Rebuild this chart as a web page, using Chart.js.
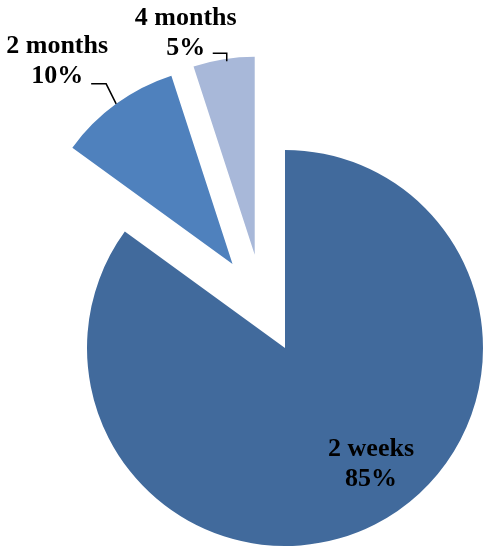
<!DOCTYPE html>
<html>
<head>
<meta charset="utf-8">
<script src="https://cdn.jsdelivr.net/npm/chart.js@4/dist/chart.umd.min.js"></script>
<style>
  html, body { margin: 0; padding: 0; background: #fff; }
  #wrap { width: 495px; height: 550px; }
</style>
</head>
<body>
<div id="wrap"><canvas id="pieChart"></canvas></div>
<script>
// data
var categories = ["2 weeks", "2 months", "4 months"];
var percents = [85, 10, 5];

// style
var colors = ["#416A9C", "#4F81BD", "#A8B8D9"];
var explodeDist = [0, 99, 98];     // px the slice is pulled out
var explodeTurn = [0, 4, -9];      // degrees, small tweak of pull direction
var labelFont = 'bold 26px "Liberation Serif", "Times New Roman", serif';

// label layout relative to the slice (dx from edge point, baselines)
var labelLayout = [
  { inside: true, angle: 53, dist: 143 },
  { dx: -59, y1: -51, y2: -21, leader: [[-25, -20], [-10, -20], [0, 0]] },
  { dx: -38, y1: -34, y2: -4, leader: [[-11, -6], [3, -6], [3, 2]] }
];

var explodePlugin = {
  id: 'explode',
  afterDatasetUpdate: function(chart, args) {
    args.meta.data.forEach(function(arc, i) {
      var d = explodeDist[i] || 0;
      if (!d) return;
      var mid = (arc.startAngle + arc.endAngle) / 2 + explodeTurn[i] * Math.PI / 180;
      arc.x += Math.cos(mid) * d;
      arc.y += Math.sin(mid) * d;
    });
  }
};

var labelPlugin = {
  id: 'pieLabels',
  afterDatasetsDraw: function(chart) {
    var ctx = chart.ctx;
    var arcs = chart.getDatasetMeta(0).data;
    ctx.save();
    ctx.font = labelFont;
    ctx.fillStyle = "#000";
    ctx.strokeStyle = "#000";
    ctx.lineWidth = 1.5;
    ctx.textAlign = "center";
    arcs.forEach(function(arc, i) {
      var lay = labelLayout[i];
      var text2 = percents[i] + "%";
      if (lay.inside) {
        var a = lay.angle * Math.PI / 180;
        var cx = arc.x + Math.cos(a) * lay.dist;
        var cy = arc.y + Math.sin(a) * lay.dist;
        ctx.textBaseline = "alphabetic";
        ctx.fillText(categories[i], cx, cy - 6);
        ctx.fillText(text2, cx, cy + 24);
        return;
      }
      var mid = (arc.startAngle + arc.endAngle) / 2;
      var ex = arc.x + Math.cos(mid) * arc.outerRadius;
      var ey = arc.y + Math.sin(mid) * arc.outerRadius;
      ctx.textBaseline = "alphabetic";
      ctx.fillText(categories[i], ex + lay.dx, ey + lay.y1);
      ctx.fillText(text2, ex + lay.dx, ey + lay.y2);
      ctx.beginPath();
      lay.leader.forEach(function(p, k) {
        if (k === 0) ctx.moveTo(ex + p[0], ey + p[1]);
        else ctx.lineTo(ex + p[0], ey + p[1]);
      });
      ctx.stroke();
    });
    ctx.restore();
  }
};

var ctx = document.getElementById("pieChart").getContext('2d');
var myPieChart = new Chart(ctx, {
  type: 'pie',
  data: {
    labels: categories,
    datasets: [{
      data: percents,
      backgroundColor: colors,
      borderWidth: 0
    }]
  },
  options: {
    responsive: true,
    maintainAspectRatio: false,
    animation: false,
    radius: 198,
    layout: {
      padding: { left: 76, right: 1, top: 148, bottom: 2 }
    },
    plugins: {
      legend: { display: false },
      tooltip: { enabled: false }
    }
  },
  plugins: [explodePlugin, labelPlugin]
});
</script>
</body>
</html>
